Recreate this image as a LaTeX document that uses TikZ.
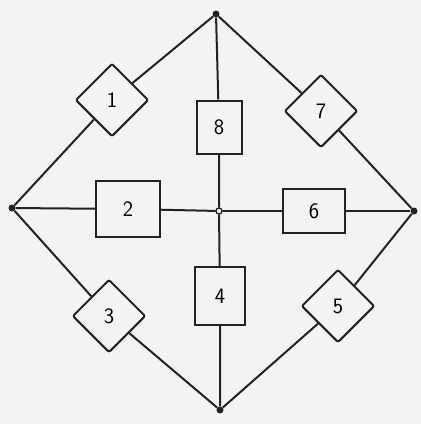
\documentclass[tikz,border=0pt]{standalone}
\usetikzlibrary{shapes.geometric}
\definecolor{ink}{HTML}{222222}
\definecolor{paper}{HTML}{F3F3F3}
\begin{document}
\begin{tikzpicture}[x=1pt,y=-1pt,
  wire/.style={draw=ink,line width=2pt},
  vdot/.style={circle,fill=ink,inner sep=0pt,minimum size=7pt},
  cdot/.style={circle,draw=ink,fill=paper,line width=1.2pt,inner sep=0pt,minimum size=6pt},
  rbox/.style={draw=ink,line width=2pt,inner sep=0pt,font=\fontsize{22}{26}\selectfont\sffamily},
  dbox/.style={diamond,draw=ink,line width=2pt,inner sep=0pt,minimum size=73pt,rounded corners=2pt,font=\fontsize{22}{26}\selectfont\sffamily}]
\fill[paper] (0,0) rectangle (421,424);
\useasboundingbox (0,0) rectangle (421,424);
% vertices
\node[vdot] (T) at (216,14) {};
\node[vdot] (L) at (12,208) {};
\node[vdot] (R) at (414,211) {};
\node[vdot] (B) at (220,410) {};
\node[cdot] (C) at (219,211) {};
% boxes
\node[dbox] (b1) at (112,100) {1};
\node[dbox] (b7) at (321,111) {7};
\node[dbox] (b3) at (109,316) {3};
\node[dbox] (b5) at (338,306) {5};
\node[rbox,minimum width=45pt,minimum height=53pt] (b8) at (219,127) {8};
\node[rbox,minimum width=64pt,minimum height=56pt] (b2) at (128,209) {2};
\node[rbox,minimum width=62pt,minimum height=44pt] (b6) at (314,211) {6};
\node[rbox,minimum width=50pt,minimum height=58pt] (b4) at (220,296) {4};
% connectors
\draw[wire] (T) -- (b1) -- (L);
\draw[wire] (T) -- (b7) -- (R);
\draw[wire] (L) -- (b3) -- (B);
\draw[wire] (R) -- (b5) -- (B);
\draw[wire] (T) -- (b8) -- (C);
\draw[wire] (C) -- (b4) -- (B);
\draw[wire] (L) -- (b2) -- (C);
\draw[wire] (C) -- (b6) -- (R);
\node[cdot] at (C) {};
\end{tikzpicture}
\end{document}
